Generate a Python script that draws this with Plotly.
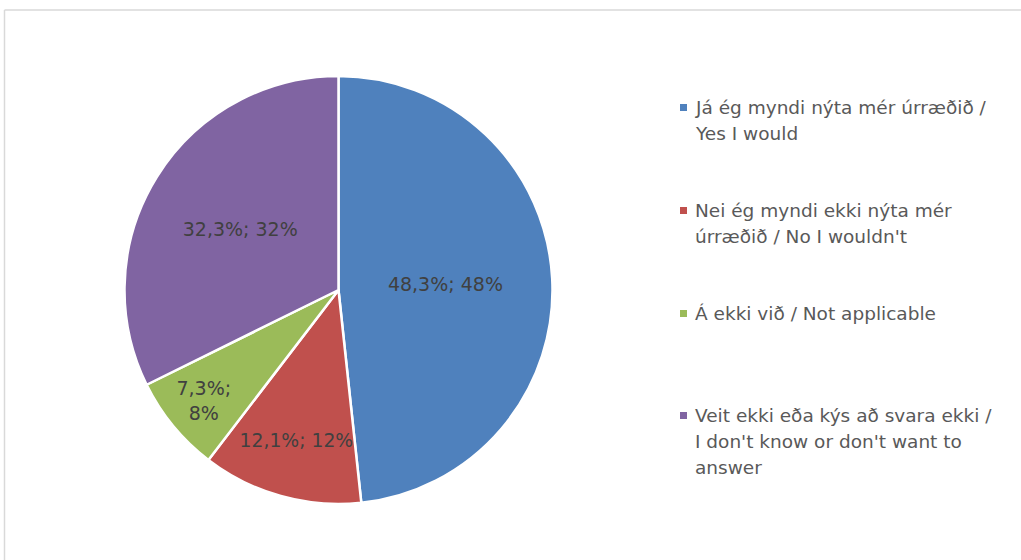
import plotly.graph_objects as go

categories = [
    "Já ég myndi nýta mér úrræðið /\nYes I would",
    "Nei ég myndi ekki nýta mér\núrræðið / No I wouldn't",
    "Á ekki við / Not applicable",
    "Veit ekki eða kýs að svara ekki /\nI don't know or don't want to\nanswer",
]
values = [48.3, 12.1, 7.3, 32.3]
rounded_pct = [48, 12, 8, 32]
colors = ["#4F81BD", "#C0504D", "#9BBB59", "#8064A2"]

W, H = 1021, 560
FONT = "DejaVu Sans"

def px(x):
    return x / W

def py(y):
    return 1 - y / H

labels = [c.replace("\n", " ") for c in categories]
texts = []
for v, p in zip(values, rounded_pct):
    s = f"{v:.1f}".replace(".", ",") + "%; " + f"{p}%"
    texts.append(s)
texts[2] = texts[2].replace("; ", ";<br>")

fig = go.Figure()
fig.add_trace(go.Pie(
    labels=labels,
    values=values,
    text=texts,
    textinfo="text",
    textposition="inside",
    insidetextorientation="horizontal",
    sort=False,
    direction="clockwise",
    rotation=0,
    marker=dict(colors=colors, line=dict(color="white", width=2.5)),
    textfont=dict(family=FONT, size=19, color="#404040"),
    domain=dict(x=[px(124), px(553)], y=[py(504), py(76)]),
    showlegend=False,
    hoverinfo="label+value",
))

shapes = [
    dict(type="line", xref="paper", yref="paper", x0=px(4.5), x1=px(4.5), y0=py(10), y1=0,
         line=dict(color="#D9D9D9", width=1.5)),
    dict(type="line", xref="paper", yref="paper", x0=px(4.5), x1=1, y0=py(10), y1=py(10),
         line=dict(color="#D9D9D9", width=1.5)),
]
annotations = []
legend_tops = [107, 210, 313, 415]
line_h = 26
for cat, col, ytop in zip(categories, colors, legend_tops):
    shapes.append(dict(type="rect", xref="paper", yref="paper",
                       x0=px(680), x1=px(687), y0=py(ytop + 4), y1=py(ytop - 3),
                       fillcolor=col, line=dict(width=0)))
    for i, line in enumerate(cat.split("\n")):
        annotations.append(dict(
            x=px(693), y=py(ytop + i * line_h), xref="paper", yref="paper",
            text=line, showarrow=False, xanchor="left", yanchor="middle",
            font=dict(family=FONT, size=18.5, color="#595959"),
        ))

fig.update_layout(
    width=W, height=H,
    margin=dict(l=0, r=0, t=0, b=0),
    paper_bgcolor="white",
    plot_bgcolor="white",
    shapes=shapes,
    annotations=annotations,
)

fig.write_html("out.html", config={"displayModeBar": False},
               post_script="document.body.style.margin='0';")
